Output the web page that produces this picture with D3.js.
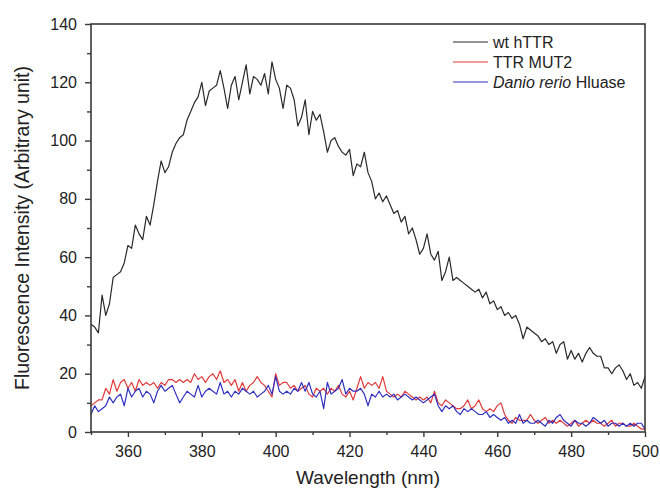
<!DOCTYPE html>
<html><head><meta charset="utf-8">
<script src="https://cdn.jsdelivr.net/npm/d3@7"></script>
<style>body{margin:0;background:#fff;} svg{display:block;font-family:"Liberation Sans",Arial,sans-serif;}</style>
</head><body>
<svg id="chart" width="660" height="496"></svg>
<script>
const wavelengthStart = 350;
const wtHTTR = [37,36,34,47,40,44,53,54,55,58,64,63,71,68,66,74,71,78,86,93,89,91,96,99,101,102,107,110,113,115,
120,112,117,118,119,124,118,111,119,122,114,120,126,116,122,121,119,123,116,127,
121,118,111,119,118,114,105,108,114,102,110,107,109,103,96,100,101,98,96,95,
97,88,92,91,96,89,86,80,82,79,81,78,75,76,72,74,68,70,66,61,
63,68,61,59,62,52,55,60,52,53,52,51,50,49,48,49,46,48,44,45,
42,43,40,41,39,40,37,32,36,35,34,33,31,32,30,31,27,30,31,25,
28,25,27,24,27,29,27,26,26,22,22,20,22,23,21,18,20,16,17,15,19];
const ttrMUT2 = [9,10,11,11,15,13,18,14,17,18,15,17,14,18,16,17,16,17,15,17,16,18,18,17,18,17,18,17,20,18,
19,17,19,20,18,21,17,18,16,18,14,17,14,16,17,19,17,16,14,12,
20,16,17,17,15,16,14,15,16,13,12,15,14,15,13,15,14,16,13,12,
14,11,15,19,15,17,16,17,15,19,14,13,12,13,12,14,13,12,11,12,
11,12,10,14,10,9,11,10,9,8,8,9,11,8,9,11,8,7,8,7,
9,10,6,4,3,5,4,4,4,6,4,3,4,5,3,4,3,4,3,2,
3,4,2,3,4,3,4,3,3,2,3,4,2,3,3,2,2,3,2,1,1];
const danioHluase = [6,9,7,8,9,12,10,12,13,9,15,12,14,15,12,14,13,10,14,16,14,15,16,13,10,12,14,13,12,16,
12,14,15,14,13,17,13,14,12,14,13,15,14,13,14,12,13,14,16,13,
19,14,13,14,13,15,14,17,14,17,13,12,14,8,17,13,14,15,18,13,
15,14,14,15,13,9,13,12,14,12,13,12,13,11,12,13,12,11,12,11,
10,11,12,13,9,7,9,8,9,7,6,8,7,8,7,6,6,7,5,6,
5,4,5,3,4,3,6,3,4,3,3,4,3,2,4,3,5,6,4,3,
2,4,3,3,2,3,5,4,3,4,2,3,3,2,3,2,3,2,3,3,1];
const seriesNames = ["wt hTTR","TTR MUT2","Danio rerio Hluase"];
const seriesColors = ["#2a2a2a","#e03a3a","#3030c0"];
const xTicks = [360,380,400,420,440,460,480,500];
const yTicks = [0,20,40,60,80,100,120,140];

const svg = d3.select("#chart");
const L=91, R=645, T=24, B=432;
const x = d3.scaleLinear().domain([350,500]).range([L,R]);
const y = d3.scaleLinear().domain([0,140]).range([B,T]);

const allSeries = [wtHTTR, ttrMUT2, danioHluase];
const line = d3.line().x((d,i)=>x(wavelengthStart+i)).y(d=>y(d));

const g = svg.append("g");
allSeries.forEach((s,k)=>{
  g.append("path").datum(s).attr("d",line).attr("fill","none")
   .attr("stroke",seriesColors[k]).attr("stroke-width",1.2).attr("stroke-linejoin","round");
});

// frame
svg.append("rect").attr("x",L).attr("y",T).attr("width",R-L).attr("height",B-T)
  .attr("fill","none").attr("stroke","#3a3a3a").attr("stroke-width",1.6);

// x axis
const xAx = svg.append("g").attr("transform",`translate(0,${B})`)
  .call(d3.axisBottom(x).tickValues(xTicks).tickSize(5).tickPadding(9).tickFormat(d3.format("d")));
const xMinor = svg.append("g").attr("transform",`translate(0,${B})`)
  .call(d3.axisBottom(x).tickValues([350,370,390,410,430,450,470,490]).tickSize(3).tickFormat(""));
// y axis
const yAx = svg.append("g").attr("transform",`translate(${L},0)`)
  .call(d3.axisLeft(y).tickValues(yTicks).tickSize(6).tickPadding(8).tickFormat(d3.format("d")));
const yMinor = svg.append("g").attr("transform",`translate(${L},0)`)
  .call(d3.axisLeft(y).tickValues([10,30,50,70,90,110,130]).tickSize(4).tickFormat(""));
[xAx,xMinor,yAx,yMinor].forEach(a=>{
  a.select(".domain").remove();
  a.selectAll("line").attr("stroke","#3a3a3a").attr("stroke-width",1.4);
  a.selectAll("text").attr("font-size",16).attr("fill","#222")
   .attr("font-family","Liberation Sans, Arial, sans-serif");
});

// titles
svg.append("text").attr("x",(L+R)/2).attr("y",484).attr("text-anchor","middle")
  .attr("font-size",19).attr("fill","#222").text("Wavelength (nm)");
svg.append("text").attr("transform",`translate(29,${(T+B)/2}) rotate(-90)`)
  .attr("text-anchor","middle").attr("font-size",19.5).attr("fill","#222")
  .text("Fluorescence Intensity (Arbitrary unit)");

// legend
const leg = svg.append("g");
seriesNames.forEach((n,k)=>{
  const cy = 42 + k*20;
  leg.append("line").attr("x1",453).attr("x2",488).attr("y1",cy).attr("y2",cy)
    .attr("stroke",seriesColors[k]).attr("stroke-width",1.1);
  const t = leg.append("text").attr("x",493).attr("y",cy+5.5).attr("font-size",16).attr("fill","#222");
  if(k===2){
    t.append("tspan").attr("font-style","italic").text("Danio rerio");
    t.append("tspan").text(" Hluase");
  } else t.text(n);
});
</script>
</body></html>
